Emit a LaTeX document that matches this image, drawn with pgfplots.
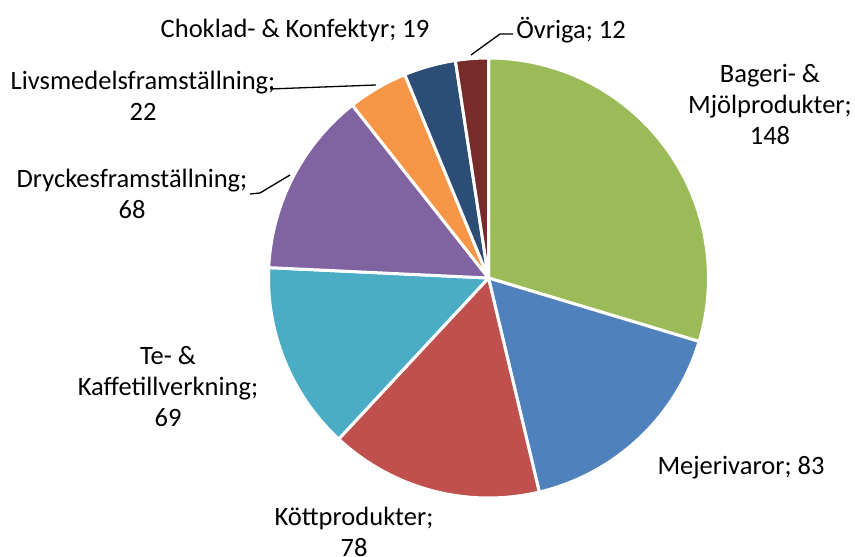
\documentclass[border=0pt]{standalone}
\usepackage{pgfplots}
\pgfplotsset{compat=1.18}
\usepackage{fontspec}
\setmainfont{Carlito}
\definecolor{cGreen}{HTML}{9BBB59}
\definecolor{cBlue}{HTML}{4F81BD}
\definecolor{cRed}{HTML}{C0504D}
\definecolor{cTeal}{HTML}{4BACC6}
\definecolor{cPurple}{HTML}{8064A2}
\definecolor{cOrange}{HTML}{F79646}
\definecolor{cDBlue}{HTML}{2C4D75}
\definecolor{cDRed}{HTML}{772C2A}
% values: Bageri 148, Mejerivaror 83, Kött 78, Te 69, Dryckes 68, Livsmedel 22, Choklad 19, Övriga 12
\def\total{499}
\def\cx{488.5}
\def\cy{279}
\def\R{220}
\newcommand{\slice}[3]{%
  \pgfmathsetmacro{\aS}{90-(#1)/\total*360}%
  \pgfmathsetmacro{\aE}{90-(#1+#2)/\total*360}%
  \addplot[fill=#3, draw=white, line width=3pt, line join=round, domain=\aE:\aS, samples=90, variable=\t]
    ({\cx+\R*cos(\t)},{\cy+\R*sin(\t)}) -- (axis cs:\cx,\cy) -- cycle;
}
\begin{document}
\begin{tikzpicture}
\begin{axis}[
  scale only axis, width=855pt, height=557pt,
  xmin=0, xmax=855, ymin=0, ymax=557,
  hide axis, clip=false,
]
\path (axis cs:0,0) rectangle (axis cs:855,557);
\slice{0}{148}{cGreen}
\slice{148}{83}{cBlue}
\slice{231}{78}{cRed}
\slice{309}{69}{cTeal}
\slice{378}{68}{cPurple}
\slice{446}{22}{cOrange}
\slice{468}{19}{cDBlue}
\slice{487}{12}{cDRed}
% leader lines
\addplot[black, line width=1.3pt] coordinates {(471,502) (500,523) (513,523)};
\addplot[black, line width=1.3pt] coordinates {(376,472) (270,468)};
\addplot[black, line width=1.3pt] coordinates {(290,382) (260,364) (250,363)};
% labels
\tikzset{lbl/.style={align=center, font=\fontsize{26.5}{31}\selectfont, inner sep=0pt}}
\node[lbl] at (axis cs:770,453) {Bageri- \&\\Mjölprodukter;\\148};
\node[lbl] at (axis cs:741,89) {Mejerivaror; 83};
\node[lbl] at (axis cs:354,25) {Köttprodukter;\\78};
\node[lbl] at (axis cs:168,170) {Te- \&\\Kaffetillverkning;\\69};
\node[lbl] at (axis cs:132,363.5) {Dryckesframställning;\\68};
\node[lbl] at (axis cs:143,461.5) {Livsmedelsframställning;\\22};
\node[lbl] at (axis cs:295,527) {Choklad- \& Konfektyr; 19};
\node[lbl] at (axis cs:571,527) {Övriga; 12};
\end{axis}
\end{tikzpicture}
\end{document}
